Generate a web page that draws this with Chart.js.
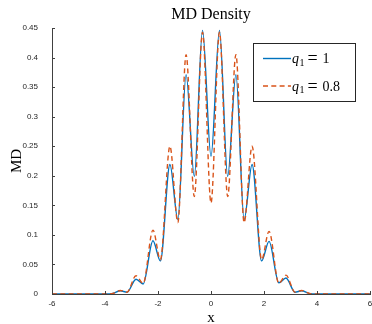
<!DOCTYPE html>
<html>
<head>
<meta charset="utf-8">
<script src="https://cdn.jsdelivr.net/npm/chart.js@4.4.1/dist/chart.umd.min.js"></script>
<style>
  html, body { margin: 0; padding: 0; background: #fff; }
  #wrap { width: 372px; height: 324px; }
</style>
</head>
<body>
<div id="wrap"><canvas id="grafica1" width="372" height="324"></canvas></div>
<script>
// posiciones x (maximos, minimos y colas)
const xPos = [-6, -4.0, -3.7, -3.42, -3.17, -2.83, -2.56, -2.19, -1.91, -1.55, -1.25, -0.94, -0.63, -0.32, 0,
              0.32, 0.63, 0.94, 1.25, 1.55, 1.91, 2.19, 2.56, 2.83, 3.17, 3.42, 3.7, 4.0, 6];
// densidad con q1 = 1
const densQ1 = [0, 0, 0.001, 0.0055, 0.003, 0.025, 0.017, 0.090, 0.056, 0.219, 0.126, 0.371, 0.199, 0.446, 0.233,
                0.446, 0.199, 0.371, 0.126, 0.219, 0.056, 0.089, 0.019, 0.027, 0.003, 0.0055, 0.001, 0, 0];
// densidad con q1 = 0.8
const densQ08 = [0, 0, 0.001, 0.006, 0.003, 0.031, 0.018, 0.108, 0.058, 0.250, 0.121, 0.405, 0.165, 0.443, 0.154,
                 0.443, 0.165, 0.405, 0.121, 0.250, 0.058, 0.106, 0.018, 0.032, 0.003, 0.006, 0.001, 0, 0];
const qValues = ['1', '0.8'];
const xTicks = [-6, -4, -2, 0, 2, 4, 6];
const yTicks = [0, 0.05, 0.1, 0.15, 0.2, 0.25, 0.3, 0.35, 0.4, 0.45];

const serif = '"Liberation Serif", "Times New Roman", serif';
const sans = '"Liberation Sans", Arial, sans-serif';

// ticks hacia adentro, estilo matlab
const ejesMatlab = {
  id: 'ejesMatlab',
  afterDatasetsDraw(chart) {
    const c = chart.ctx;
    const { left, bottom } = chart.chartArea;
    const sx = chart.scales.x, sy = chart.scales.y;
    c.save();
    c.strokeStyle = '#404040';
    c.lineWidth = 1;
    c.beginPath();
    sx.ticks.forEach(t => {
      const px = Math.round(sx.getPixelForValue(t.value)) + 0.5;
      c.moveTo(px, bottom); c.lineTo(px, bottom - 3);
    });
    sy.ticks.forEach(t => {
      const py = Math.round(sy.getPixelForValue(t.value)) + 0.5;
      c.moveTo(left, py); c.lineTo(left + 3, py);
    });
    c.stroke();
    c.restore();
  }
};

// leyenda dentro del area, con q subindice 1
const leyenda = {
  id: 'leyenda',
  afterDraw(chart) {
    const c = chart.ctx;
    const x0 = 253.5, y0 = 43.5, w = 102, h = 58;
    c.save();
    c.fillStyle = '#fff';
    c.fillRect(x0, y0, w, h);
    c.strokeStyle = '#262626';
    c.lineWidth = 1;
    c.strokeRect(x0, y0, w, h);
    chart.data.datasets.forEach((ds, i) => {
      const ly = 58.5 + i * 27.5;
      c.strokeStyle = ds.borderColor;
      c.lineWidth = ds.borderWidth;
      c.setLineDash(ds.borderDash || []);
      c.beginPath(); c.moveTo(263, ly); c.lineTo(291, ly); c.stroke();
      c.setLineDash([]);
      const by = ly + 4.5;
      c.fillStyle = '#000';
      c.textBaseline = 'alphabetic';
      c.font = 'italic 14px ' + serif;
      c.fillText('q', 292, by);
      c.font = '10px ' + serif;
      c.fillText('1', 299.5, by + 2.5);
      c.font = '18px ' + serif;
      c.fillText('=', 307.5, by + 1);
      c.font = '14px ' + serif;
      c.fillText(qValues[i], 322.5, by);
    });
    c.restore();
  }
};

const ctx = document.getElementById('grafica1').getContext('2d');

window.miGrafica = new Chart(ctx, {
  type: 'line',
  data: {
    datasets: [{
      label: 'q1 = ' + qValues[0],
      data: xPos.map((x, i) => ({ x: x, y: densQ1[i] })),
      borderColor: '#0072BD',
      borderWidth: 1.4,
      pointRadius: 0,
      cubicInterpolationMode: 'monotone',
      fill: false,
      order: 1
    }, {
      label: 'q1 = ' + qValues[1],
      data: xPos.map((x, i) => ({ x: x, y: densQ08[i] })),
      borderColor: '#D95319',
      borderWidth: 1.4,
      borderDash: [5, 3.3],
      pointRadius: 0,
      cubicInterpolationMode: 'monotone',
      fill: false,
      order: 0
    }]
  },
  options: {
    responsive: false,
    animation: false,
    layout: { padding: { left: 0, right: 2, top: 0, bottom: 0 } },
    plugins: {
      legend: { display: false },
      tooltip: { enabled: false },
      title: {
        display: true,
        text: 'MD Density',
        fullSize: false,
        color: '#000',
        font: { family: serif, size: 16, weight: 'normal', lineHeight: 1 },
        padding: { top: 7, bottom: 5 }
      }
    },
    scales: {
      x: {
        type: 'linear',
        min: -6,
        max: 6,
        afterBuildTicks: s => { s.ticks = xTicks.map(v => ({ value: v })); },
        afterFit: s => { s.height = 30; s.paddingLeft = 0; s.paddingRight = 0; },
        grid: { display: false, drawTicks: false },
        border: { display: true, color: '#404040', width: 1 },
        ticks: {
          padding: 5, color: '#262626', maxRotation: 0, autoSkip: false,
          font: { family: sans, size: 8 },
          callback: v => String(v)
        },
        title: {
          display: true, text: 'x', color: '#000',
          font: { family: serif, size: 15, lineHeight: 1 },
          padding: { top: 0, bottom: -2 }
        }
      },
      y: {
        type: 'linear',
        min: 0,
        max: 0.45,
        afterBuildTicks: s => { s.ticks = yTicks.map(v => ({ value: v })); },
        afterFit: s => { s.width = 52; s.paddingTop = 0; s.paddingBottom = 0; },
        grid: { display: false, drawTicks: false },
        border: { display: true, color: '#404040', width: 1 },
        ticks: {
          padding: 14, color: '#262626', autoSkip: false,
          font: { family: sans, size: 8 },
          callback: v => String(parseFloat(Number(v).toFixed(2)))
        },
        title: {
          display: true, text: 'MD', color: '#000',
          font: { family: serif, size: 15, lineHeight: 1 },
          padding: { top: 10, bottom: 0 }
        }
      }
    }
  },
  plugins: [ejesMatlab, leyenda]
});
</script>
</body>
</html>
